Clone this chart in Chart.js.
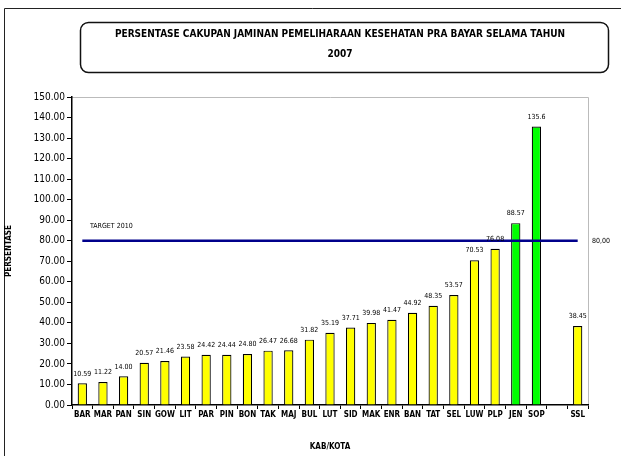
<!DOCTYPE html>
<html>
<head>
<meta charset="utf-8">
<script src="https://cdn.jsdelivr.net/npm/chart.js@4.4.0/dist/chart.umd.min.js"></script>
<style>
  html, body { margin: 0; padding: 0; background: #fff; }
  #wrap { width: 621px; height: 456px; position: relative; }
</style>
</head>
<body>
<div id="wrap"><canvas id="chart-canvas" width="621" height="456"></canvas></div>
<script>
// kabupaten / kota codes (slot 24 is empty in the original sheet)
const categories = [
  "BAR", "MAR", "PAN", "SIN", "GOW", "LIT", "PAR", "PIN", "BON", "TAK",
  "MAJ", "BUL", "LUT", "SID", "MAK", "ENR", "BAN", "TAT", "SEL", "LUW",
  "PLP", "JEN", "SOP", "", "SSL",
];
const coverage = [
  10.59, 11.22, 14.0, 20.57, 21.46, 23.58, 24.42, 24.44, 24.8, 26.47,
  26.68, 31.82, 35.19, 37.71, 39.98, 41.47, 44.92, 48.35, 53.57, 70.53,
  76.08, 88.57, 135.6, null, 38.45,
];
const coverageLabels = [
  "10.59", "11.22", "14.00", "20.57", "21.46", "23.58", "24.42", "24.44", "24.80", "26.47",
  "26.68", "31.82", "35.19", "37.71", "39.98", "41.47", "44.92", "48.35", "53.57", "70.53",
  "76.08", "88.57", "135.6", "", "38.45",
];
const aboveTarget = ["JEN", "SOP"];
const targetValue = 80;
const yTicks = { min: 0, max: 150, step: 10 };

const FONT = "'Liberation Sans Narrow', 'DejaVu Sans Condensed', Arial, sans-serif";

document.addEventListener("DOMContentLoaded", main);

function main() {
  const ctx = document.getElementById("chart-canvas").getContext("2d");

  // frame, title box, data labels, target labels
  const decorations = {
    id: "decorations",
    beforeDraw(chart) {
      const c = chart.ctx;
      c.save();
      c.strokeStyle = "#222";
      c.lineWidth = 1;
      c.beginPath();
      c.moveTo(4.5, 456);
      c.lineTo(4.5, 8.5);
      c.lineTo(621, 8.5);
      c.stroke();

      // title box
      c.lineWidth = 1.5;
      c.strokeStyle = "#111";
      c.beginPath();
      c.roundRect(80.5, 22.5, 528, 50, 8);
      c.stroke();
      c.fillStyle = "#000";
      c.font = "bold 10px " + FONT;
      c.textAlign = "center";
      c.textBaseline = "middle";
      c.fillText("PERSENTASE CAKUPAN JAMINAN PEMELIHARAAN KESEHATAN PRA BAYAR SELAMA TAHUN", 340, 34);
      c.fillText("2007", 340, 54);

      // plot area border (top & right)
      const a = chart.chartArea;
      c.strokeStyle = "#bbb";
      c.lineWidth = 1;
      c.beginPath();
      c.moveTo(a.left, a.top + 0.5);
      c.lineTo(a.right + 0.5, a.top + 0.5);
      c.lineTo(a.right + 0.5, a.bottom);
      c.stroke();
      c.restore();
    },
    afterDatasetsDraw(chart) {
      const c = chart.ctx;
      const meta = chart.getDatasetMeta(1);
      c.save();
      c.fillStyle = "#000";
      c.font = "7px " + FONT;
      c.textAlign = "center";
      c.textBaseline = "bottom";
      meta.data.forEach((bar, i) => {
        if (coverage[i] == null) return;
        c.fillText(coverageLabels[i], bar.x, bar.y - 6);
      });
      const yS = chart.scales.y;
      const ty = yS.getPixelForValue(targetValue);
      c.textAlign = "left";
      c.textBaseline = "middle";
      c.fillText("TARGET 2010", 90, ty - 15);
      c.fillText("80,00", chart.chartArea.right + 4, ty);
      c.restore();
    },
  };

  new Chart(ctx, {
    type: "bar",
    data: {
      labels: categories,
      datasets: [
        {
          type: "line",
          label: "Target 2010",
          data: categories.map(() => targetValue),
          borderColor: "#00008b",
          borderWidth: 2.5,
          pointRadius: 0,
          fill: false,
          order: 0,
        },
        {
          label: "Persentase",
          data: coverage,
          backgroundColor: categories.map((k) => aboveTarget.includes(k) ? "#00ff00" : "#ffff00"),
          borderColor: "#000",
          borderWidth: 1.2,
          categoryPercentage: 1,
          barPercentage: 0.45,
          order: 1,
        },
      ],
    },
    options: {
      responsive: false,
      animation: false,
      layout: { padding: { top: 97, right: 33, left: 0, bottom: 0 } },
      plugins: {
        legend: { display: false },
        tooltip: { enabled: false },
      },
      scales: {
        x: {
          grid: { drawOnChartArea: false, color: "#000", tickLength: 4, offset: true },
          border: { color: "#000", width: 1.5 },
          ticks: {
            color: "#000",
            font: { family: FONT, size: 8, weight: "bold" },
            maxRotation: 0,
            autoSkip: false,
            padding: 1,
          },
          title: {
            display: true,
            text: "KAB/KOTA",
            color: "#000",
            font: { family: FONT, size: 8, weight: "bold" },
            padding: { top: 18 },
          },
          afterFit(scale) { scale.height = 51; },
        },
        y: {
          min: yTicks.min,
          max: yTicks.max,
          grid: { drawOnChartArea: false, color: "#000", tickLength: 5 },
          border: { color: "#000", width: 1.5 },
          ticks: {
            stepSize: yTicks.step,
            color: "#000",
            font: { family: FONT, size: 10 },
            padding: 2,
            callback: (v) => v.toFixed(2),
          },
          title: {
            display: true,
            text: "PERSENTASE",
            color: "#000",
            font: { family: FONT, size: 8, weight: "bold" },
            padding: { top: 4, bottom: 8 },
          },
          afterFit(scale) { scale.width = 72; },
        },
      },
    },
    plugins: [decorations],
  });
}
</script>
</body>
</html>
